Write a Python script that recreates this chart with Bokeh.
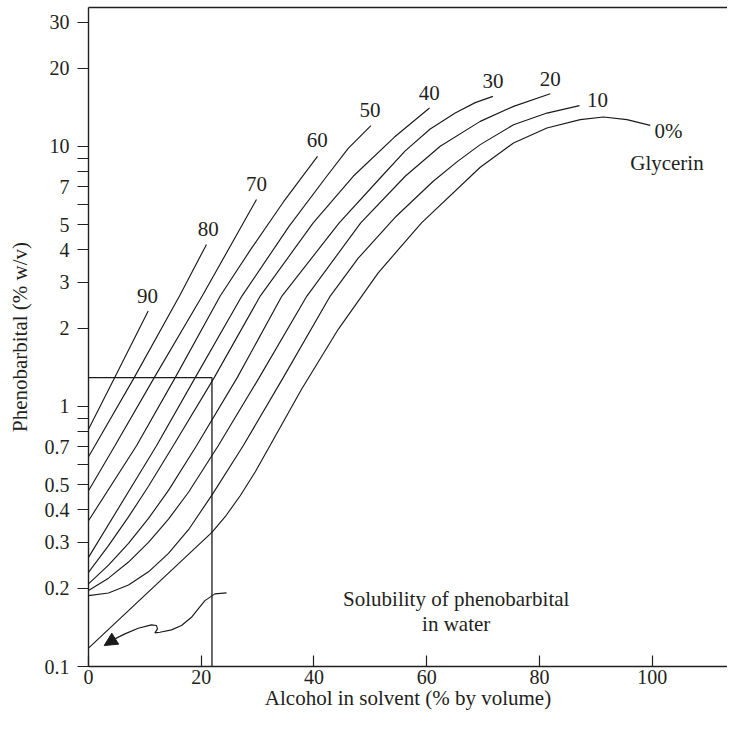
from bokeh.plotting import figure
from bokeh.models import (LinearAxis, FixedTicker, CustomJSTickFormatter, Range1d,
                          Arrow, NormalHead)
from bokeh.core.properties import value
from bokeh.embed import file_html
from bokeh.resources import INLINE

# ---- data ----
glycerin_labels = ["90", "80", "70", "60", "50", "40", "30", "20", "10", "0%"]

c90_x = [0, 4.63, 10.59]
c90_y = [0.8175, 1.290, 2.326]
c80_x = [0, 1.135, 8.107, 16.14, 20.93]
c80_y = [0.640, 0.7055, 1.290, 2.656, 4.194]
c70_x = [0, 4.683, 11.66, 20.17, 29.80]
c70_y = [0.4738, 0.7055, 1.290, 2.656, 6.243]
c60_x = [0, 8.515, 15.38, 23.36, 28.69, 34.54, 40.62]
c60_y = [0.3635, 0.7055, 1.290, 2.656, 3.988, 6.096, 9.153]
c50_x = [0, 12.06, 18.93, 27.21, 35.60, 41.99, 46.07, 50.10]
c50_y = [0.2628, 0.7055, 1.290, 2.656, 4.931, 7.537, 9.825, 12.01]
c40_x = [0, 3.548, 7.096, 10.64, 15.03, 22.30, 30.46, 39.86, 46.96, 54.23, 60.49]
c40_y = [0.2301, 0.2917, 0.3759, 0.4930, 0.7055, 1.290, 2.656, 5.077, 7.671, 10.83, 14.03]
c30_x = [0, 3.548, 7.096, 10.64, 14.19, 19.16, 26.38, 34.31, 44.47, 52.03, 56.18, 60.61, 65.05, 68.60, 71.74]
c30_y = [0.2077, 0.2453, 0.2977, 0.3710, 0.4755, 0.7055, 1.290, 2.656, 5.077, 7.671, 9.607, 11.66, 13.43, 14.72, 15.56]
c20_x = [0, 3.548, 7.096, 10.64, 14.19, 17.74, 23.01, 30.28, 38.74, 48.29, 56.18, 62.39, 69.49, 75.40, 81.91]
c20_y = [0.1958, 0.2186, 0.2521, 0.300, 0.3687, 0.4676, 0.7055, 1.290, 2.656, 5.077, 7.671, 10.0, 12.47, 14.24, 15.93]
c10_x = [0, 3.548, 7.096, 10.64, 14.19, 17.74, 21.89, 27.44, 34.54, 42.88, 47.85, 54.59, 61.15, 65.41, 69.49, 75.40, 81.32, 87.10]
c10_y = [0.1873, 0.1917, 0.2057, 0.2312, 0.2722, 0.3357, 0.4561, 0.7055, 1.290, 2.656, 3.715, 5.385, 7.337, 8.734, 10.15, 12.11, 13.42, 14.33]
c0_x = [0, 21.89, 24.25, 26.91, 29.59, 32.18, 37.79, 44.30, 51.39, 59.07, 69.49, 75.39, 81.32, 87.23, 91.36, 95.51, 99.65]
c0_y = [0.1176, 0.328, 0.3766, 0.4533, 0.5605, 0.7055, 1.164, 1.979, 3.263, 5.077, 8.307, 10.30, 11.76, 12.66, 12.96, 12.66, 12.04]

curves_x = [c90_x, c80_x, c70_x, c60_x, c50_x, c40_x, c30_x, c20_x, c10_x, c0_x]
curves_y = [c90_y, c80_y, c70_y, c60_y, c50_y, c40_y, c30_y, c20_y, c10_y, c0_y]

label_x = [10.47, 21.23, 29.80, 40.57, 49.92, 60.44, 71.74, 81.91, 90.30, 102.89]
label_y = [2.656, 4.80, 7.19, 10.61, 13.75, 16.02, 17.77, 18.13, 15.02, 11.42]

# water-solubility box
box_x = [0, 21.9, 21.9]
box_y = [1.29, 1.29, 0.1]

# wavy pointer to the water solubility
wave_x = [24.48, 22.42, 20.65, 19.46, 18.27, 16.50, 14.72, 12.67, 11.78, 12.24, 12.06, 11.18, 8.82, 6.46, 4.68]
wave_y = [0.1918, 0.1902, 0.1792, 0.1666, 0.1546, 0.1437, 0.1383, 0.1354, 0.1347, 0.1396, 0.1437, 0.1446, 0.1403, 0.1335, 0.1277]
arrow_tip = (2.785, 0.1204)

x_ticks = [0, 20, 40, 60, 80, 100]
y_labeled = [0.1, 0.2, 0.3, 0.4, 0.5, 0.7, 1, 2, 3, 4, 5, 7, 10, 20, 30]
y_unlabeled = [0.6, 0.8, 0.9, 6, 8, 9]

FONT = "Liberation Serif"
INK = "#231f20"

p = figure(width=727, height=713, y_axis_type="log",
           x_range=Range1d(0, 113.35), y_range=Range1d(0.1, 34.17),
           output_backend="svg", toolbar_location=None,
           min_border_left=88, min_border_top=7, min_border_bottom=47, min_border_right=0)
p.xgrid.visible = False
p.ygrid.visible = False
p.outline_line_color = None
p.background_fill_color = "white"
p.border_fill_color = "white"

for ax in (p.xaxis[0], p.yaxis[0]):
    ax.axis_line_color = INK
    ax.axis_line_width = 1.4
    ax.major_tick_line_color = INK
    ax.major_tick_line_width = 1.2
    ax.minor_tick_line_color = None
    ax.major_label_text_font = FONT
    ax.major_label_text_font_size = "20px"
    ax.major_label_text_color = INK
    ax.axis_label_text_font = FONT
    ax.axis_label_text_font_size = "21px"
    ax.axis_label_text_font_style = "normal"
    ax.axis_label_text_color = INK

p.xaxis.ticker = FixedTicker(ticks=x_ticks)
p.xaxis.major_tick_in = 11
p.xaxis.major_tick_out = 0
p.xaxis.major_label_standoff = 3
p.xaxis.axis_label = "Alcohol in solvent (% by volume)"
p.xaxis.axis_label_standoff = -1

p.yaxis.ticker = FixedTicker(ticks=sorted(y_labeled + y_unlabeled))
p.yaxis.formatter = CustomJSTickFormatter(args=dict(labeled=y_labeled), code="""
    for (const v of labeled) { if (Math.abs(v - tick) < 1e-9 * Math.max(1, v)) return String(v); }
    return "";
""")
p.yaxis.major_tick_in = 0
p.yaxis.major_tick_out = 11
p.yaxis.major_label_standoff = 8
p.yaxis.axis_label = "Phenobarbital (% w/v)"
p.yaxis.axis_label_standoff = 10

top = LinearAxis(ticker=FixedTicker(ticks=[]), major_label_text_font_size="0px",
                 axis_line_color=INK, axis_line_width=1.4,
                 major_tick_line_color=None, minor_tick_line_color=None)
p.add_layout(top, "above")

for xs, ys in zip(curves_x, curves_y):
    p.line(xs, ys, line_color="#1a1a1a", line_width=1.15)

p.text(x=label_x, y=label_y, text=glycerin_labels, text_font=value(FONT),
       text_font_size="21px", text_color=INK, text_align="center", text_baseline="middle")
p.text(x=[102.61], y=[8.63], text=["Glycerin"], text_font=value(FONT),
       text_font_size="21px", text_color=INK, text_align="center", text_baseline="middle")
p.text(x=[65.23, 65.23], y=[0.182, 0.1459], text=["Solubility of phenobarbital", "in water"],
       text_font=value(FONT), text_font_size="21px", text_color=INK,
       text_align="center", text_baseline="middle")

p.line(box_x, box_y, line_color="#1a1a1a", line_width=1.3)
p.line(wave_x, wave_y, line_color="#1a1a1a", line_width=1.15)
p.add_layout(Arrow(end=NormalHead(size=13, fill_color="#1a1a1a", line_color="#1a1a1a"),
                   x_start=wave_x[-1], y_start=wave_y[-1], x_end=arrow_tip[0], y_end=arrow_tip[1],
                   line_color="#1a1a1a", line_width=1.15))

open("out.html", "w").write(file_html(p, INLINE))
